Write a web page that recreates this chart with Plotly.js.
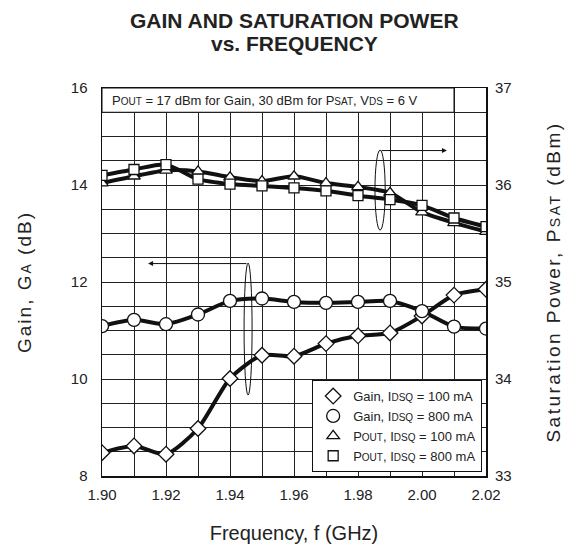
<!DOCTYPE html>
<html>
<head>
<meta charset="utf-8">
<script src="https://cdn.plot.ly/plotly-3.0.1.min.js"></script>
<style>html,body{margin:0;padding:0;background:#fff;}#chart{width:581px;height:550px;}</style>
</head>
<body>
<div id="chart"></div>
<script>
// Frequency (GHz)
const freq = [1.90, 1.91, 1.92, 1.93, 1.94, 1.95, 1.96, 1.97, 1.98, 1.99, 2.00, 2.01, 2.02];
// Gain (dB), left axis
const gainIdsq100 = [8.48, 8.62, 8.45, 8.98, 10.01, 10.49, 10.47, 10.73, 10.89, 10.95, 11.30, 11.73, 11.85];
const gainIdsq800 = [11.09, 11.22, 11.13, 11.33, 11.61, 11.66, 11.59, 11.57, 11.59, 11.61, 11.40, 11.08, 11.04];
// Saturation power (dBm), right axis
const poutIdsq100 = [36.02, 36.09, 36.15, 36.14, 36.08, 36.04, 36.09, 36.02, 35.98, 35.92, 35.72, 35.61, 35.52];
const poutIdsq800 = [36.10, 36.16, 36.21, 36.06, 36.01, 35.99, 35.97, 35.94, 35.89, 35.85, 35.79, 35.66, 35.57];

const xTickVals = [1.90, 1.92, 1.94, 1.96, 1.98, 2.00, 2.02];
const xTickText = ['1.90', '1.92', '1.94', '1.96', '1.98', '2.00', '2.02'];
const yTickVals = [8, 10, 12, 14, 16];
const y2TickVals = [33, 34, 35, 36, 37];

const sm = (t) => '<span style="font-size:10px">' + t + '</span>';
const smA = (t) => '<span style="font-size:14px">' + t + '</span>';
const spaced = (t, ls) => '<span style="letter-spacing:' + ls + 'px">' + t + '</span>';

const legendNames = [
  'Gain, I' + sm('DSQ') + ' = 100 mA',
  'Gain, I' + sm('DSQ') + ' = 800 mA',
  'P' + sm('OUT') + ', I' + sm('DSQ') + ' = 100 mA',
  'P' + sm('OUT') + ', I' + sm('DSQ') + ' = 800 mA'
];

const lineStyle = {color: '#111', width: 4, shape: 'spline', smoothing: 0.7};
const mk = (sym, size) => ({symbol: sym, size: size, color: '#fff', line: {color: '#111', width: 1.3}});

const series = [
  {y: gainIdsq100, axis: 'y', sym: 'diamond', size: 12},
  {y: gainIdsq800, axis: 'y', sym: 'circle', size: 13},
  {y: poutIdsq100, axis: 'y2', sym: 'triangle-up', size: 11},
  {y: poutIdsq800, axis: 'y2', sym: 'square', size: 10}
];

const traces = [];
series.forEach(s => {
  traces.push({x: freq, y: s.y, yaxis: s.axis, type: 'scatter', mode: 'lines',
    line: lineStyle, showlegend: false, hoverinfo: 'skip'});
});
series.forEach((s, i) => {
  traces.push({x: freq, y: s.y, yaxis: s.axis, type: 'scatter', mode: 'markers',
    marker: mk(s.sym, s.size), name: legendNames[i], showlegend: true});
});

const font = 'Liberation Sans, Arial, sans-serif';

const layout = {
  width: 581, height: 550,
  margin: {l: 102, r: 95, t: 88, b: 74},
  paper_bgcolor: '#fff', plot_bgcolor: '#fff',
  font: {family: font, color: '#222', size: 15},
  showlegend: true,
  legend: {
    x: 0.99, xanchor: 'right', y: 0.01, yanchor: 'bottom',
    bgcolor: '#fff', bordercolor: '#111', borderwidth: 1,
    font: {family: font, size: 13, color: '#222'},
    tracegroupgap: 0, itemwidth: 30
  },
  xaxis: {
    range: [1.90, 2.02], tickvals: xTickVals, ticktext: xTickText,
    showline: true, mirror: true, linecolor: '#111', linewidth: 1.5,
    showgrid: true, gridcolor: '#222', gridwidth: 1,
    minor: {dtick: 0.01, tick0: 1.90, showgrid: true, gridcolor: '#222', gridwidth: 1},
    zeroline: false, ticks: '', ticklabelstandoff: 4,
    tickfont: {size: 15, color: '#222'},
    title: {text: 'Frequency, f (GHz)', font: {size: 20, color: '#222'}, standoff: 24}
  },
  yaxis: {
    range: [8, 16], tickvals: yTickVals,
    showline: true, mirror: true, linecolor: '#111', linewidth: 1.5,
    showgrid: true, gridcolor: '#222', gridwidth: 1,
    minor: {dtick: 0.5, tick0: 8, showgrid: true, gridcolor: '#222', gridwidth: 1},
    zeroline: false, ticks: '', ticklabelstandoff: 10,
    tickfont: {size: 15, color: '#222'},
    title: {text: spaced('Gain, G' + smA('A') + ' (dB)', 2), font: {size: 19, color: '#222'}, standoff: 34}
  },
  yaxis2: {
    range: [33, 37], tickvals: y2TickVals, overlaying: 'y', side: 'right',
    showgrid: false, zeroline: false, showline: false, ticks: '', ticklabelstandoff: 8,
    tickfont: {size: 15, color: '#222'},
    title: {text: spaced('Saturation Power, P' + smA('SAT') + ' (dBm)', 2.5), font: {size: 19, color: '#222'}, standoff: 36}
  },
  shapes: [
    {type: 'rect', xref: 'x', yref: 'y', x0: 1.90, x1: 2.01, y0: 15.5, y1: 16,
      fillcolor: '#fff', line: {color: '#111', width: 1}, layer: 'above'},
    {type: 'circle', xref: 'x', yref: 'y', x0: 1.9853, x1: 1.9885, y0: 13.07, y1: 14.72,
      line: {color: '#111', width: 1}, layer: 'above'},
    {type: 'circle', xref: 'x', yref: 'y', x0: 1.9444, x1: 1.9469, y0: 9.67, y1: 12.39,
      line: {color: '#111', width: 1}, layer: 'above'}
  ],
  annotations: [
    {xref: 'paper', yref: 'paper', x: 0.5, y: 1, yshift: 68, xanchor: 'center', yanchor: 'middle',
      text: '<b>GAIN AND SATURATION POWER</b>', showarrow: false,
      font: {family: font, size: 21, color: '#222'}},
    {xref: 'paper', yref: 'paper', x: 0.5, y: 1, yshift: 45, xanchor: 'center', yanchor: 'middle',
      text: '<b>vs. FREQUENCY</b>', showarrow: false,
      font: {family: font, size: 21, color: '#222'}},
    {xref: 'x', yref: 'y', x: 1.9025, y: 15.75, xanchor: 'left', yanchor: 'middle',
      text: 'P' + sm('OUT') + ' = 17 dBm for Gain, 30 dBm for P' + sm('SAT') + ', V' + sm('DS') + ' = 6 V',
      showarrow: false, font: {family: font, size: 13, color: '#222'}},
    {xref: 'x', yref: 'y', axref: 'x', ayref: 'y', x: 2.0078, y: 14.71, ax: 1.9869, ay: 14.71,
      showarrow: true, arrowhead: 2, arrowsize: 1, arrowwidth: 1, arrowcolor: '#111', text: ''},
    {xref: 'x', yref: 'y', axref: 'x', ayref: 'y', x: 1.9144, y: 12.38, ax: 1.9456, ay: 12.38,
      showarrow: true, arrowhead: 2, arrowsize: 1, arrowwidth: 1, arrowcolor: '#111', text: ''}
  ]
};

Plotly.newPlot('chart', traces, layout, {staticPlot: true, displayModeBar: false});
</script>
</body>
</html>
